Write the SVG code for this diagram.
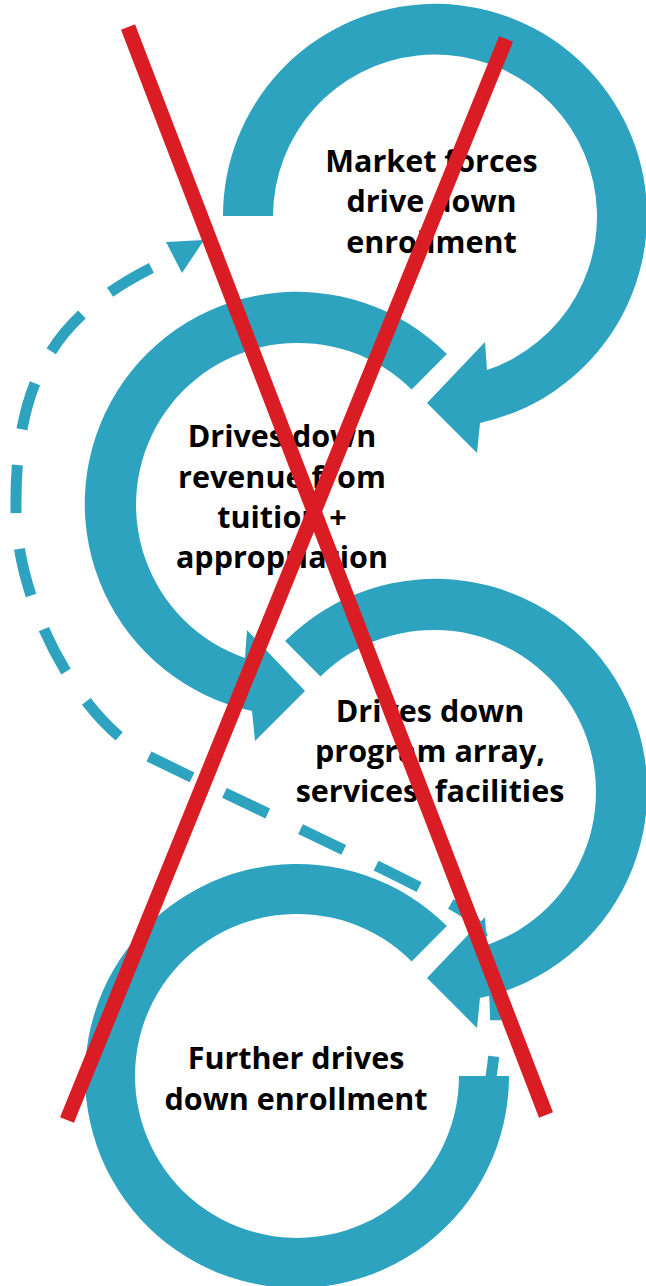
<svg xmlns="http://www.w3.org/2000/svg" width="646" height="1286" viewBox="0 0 646 1286">
  <style>
    .ring { fill: #2DA3BF; }
    .loop { fill: none; stroke: #2DA3BF; stroke-width: 11; stroke-dasharray: 48 36; stroke-dashoffset: 59; }
    .head { fill: #2DA3BF; }
    .label { font-family: "Open Sans", "Liberation Sans", sans-serif; font-weight: 700; font-size: 30.5px; fill: #000; text-anchor: middle; }
    .cross { stroke: #DA1C24; stroke-width: 15; stroke-linecap: butt; }
  </style>

  <!-- dashed feedback connector: from the last cycle back to the first -->
  <g id="connectors">
    <path class="loop" d="M174,257 C70,305 14,360 16,510 C16,600 78,722 150,757 C250,806 440,893 470,916 C500,950 500,1040 488,1092"/>
    <polygon class="head" points="166,242 204,240 182,273"/>
  </g>

  <!-- cycle 1 -->
  <g id="node-market-forces">
    <path class="ring" d="M223,216 A212,212 0 1 1 480,423 L477,453 L427,403 L485,342 L487,370 A162,162 0 1 0 273,216 Z"/>
    <text class="label" x="431.5" y="172">Market forces</text>
    <text class="label" x="431.5" y="212">drive down</text>
    <text class="label" x="431.5" y="253">enrollment</text>
  </g>

  <!-- cycle 2 -->
  <g id="node-revenue">
    <path class="ring" d="M446.9,354.1 A212,212 0 1 0 252,711 L255,741 L305,691 L247,630 L245,658 A162,162 0 1 1 411.6,389.4 Z"/>
    <text class="label" x="282" y="447">Drives down</text>
    <text class="label" x="282" y="488">revenue from</text>
    <text class="label" x="282" y="528">tuition +</text>
    <text class="label" x="282" y="568">appropriation</text>
  </g>

  <!-- cycle 3 -->
  <g id="node-programs">
    <path class="ring" d="M285.1,641.1 A212,212 0 1 1 480,998 L477,1028 L427,978 L485,917 L487,945 A162,162 0 1 0 320.4,676.4 Z"/>
    <text class="label" x="430" y="722">Drives down</text>
    <text class="label" x="430" y="762">program array,</text>
    <text class="label" x="430" y="802">services, facilities</text>
  </g>

  <!-- cycle 4 -->
  <g id="node-further-enrollment">
    <path class="ring" d="M446.9,926.1 A212,212 0 1 0 509,1076 L459,1076 A162,162 0 1 1 411.6,961.4 Z"/>
    <text class="label" x="296" y="1069">Further drives</text>
    <text class="label" x="296" y="1110">down enrollment</text>
  </g>

  <!-- strike-through cross -->
  <g id="cross">
    <line class="cross" x1="128" y1="27" x2="546" y2="1115"/>
    <line class="cross" x1="506" y1="39" x2="67" y2="1120"/>
  </g>
</svg>
